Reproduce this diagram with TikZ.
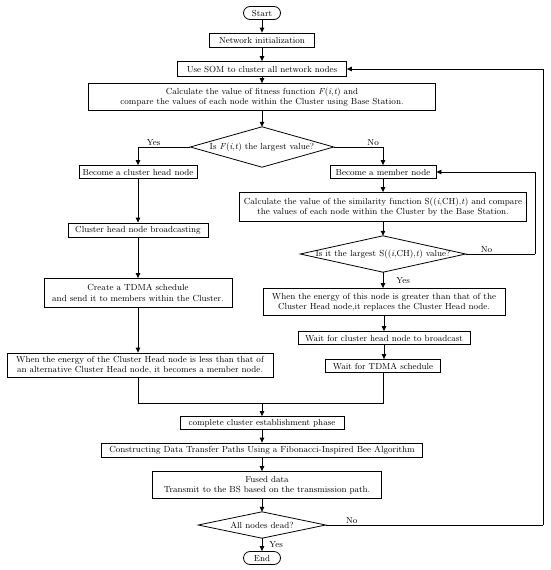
\documentclass[tikz,border=0pt]{standalone}
\usetikzlibrary{arrows.meta}
\begin{document}
\begin{tikzpicture}[x=1pt,y=-1pt,
  txt/.style={font=\fontsize{8.8}{10.2}\selectfont},
  box/.style={txt,draw,line width=0.8pt,inner sep=1pt,align=center},
  term/.style={box,rounded corners=6.5pt},
  dia/.style={txt,inner sep=0pt,align=center},
  arr/.style={-{Triangle[length=5pt,width=4.5pt]},line width=0.8pt},
  ln/.style={line width=0.8pt},
  lbl/.style={txt,inner sep=1pt}]
\useasboundingbox (0,0) rectangle (550,570);
% main column
\node[term,minimum width=37pt,minimum height=13pt] (start) at (262,13) {Start};
\node[box,minimum width=105pt,minimum height=14pt] (init) at (262,40) {Network initialization};
\node[box,minimum width=169pt,minimum height=15pt] (som) at (262,69) {Use SOM to cluster all network nodes};
\node[box,minimum width=347pt,minimum height=27pt] (calc) at (262,97) {Calculate the value of fitness function \textit{F}(\textit{i},\textit{t}) and\\compare the values of each node within the Cluster using Base Station.};
\node[dia,minimum width=143pt,minimum height=40pt] (d1) at (262,147) {Is \textit{F}(\textit{i},\textit{t}) the largest value?};
% left column
\node[box,minimum width=118pt,minimum height=13pt] (ch) at (138,172) {Become a cluster head node};
\node[box,minimum width=140pt,minimum height=14pt] (bcast) at (138,230) {Cluster head node broadcasting};
\node[box,minimum width=188pt,minimum height=29pt] (tdma) at (138,293) {Create a TDMA schedule\\and send it to members within the Cluster.};
\node[box,minimum width=266pt,minimum height=24pt] (energyL) at (140,365) {When the energy of the Cluster Head node is less than that of\\an alternative Cluster Head node, it becomes a member node.};
% right column
\node[box,minimum width=106pt,minimum height=13pt] (mem) at (383,172) {Become a member node};
\node[box,minimum width=287pt,minimum height=29pt] (sim) at (383,207) {Calculate the value of the similarity function S((\textit{i},CH),\textit{t}) and compare\\the values of each node within the Cluster by the Base Station.};
\node[dia,minimum width=165pt,minimum height=36pt] (d2) at (383,254) {Is it the largest S((\textit{i},CH),\textit{t}) value?};
\node[box,minimum width=242pt,minimum height=27pt] (energyR) at (384,302) {When the energy of this node is greater than that of the\\Cluster Head node,it replaces the Cluster Head node.};
\node[box,minimum width=172pt,minimum height=13pt] (waitB) at (384,338) {Wait for cluster head node to broadcast};
\node[box,minimum width=115pt,minimum height=13pt] (waitT) at (383,366) {Wait for TDMA schedule};
% bottom
\coordinate (j) at (262,403);
\node[box,minimum width=164pt,minimum height=13pt] (complete) at (262,423) {complete cluster establishment phase};
\node[box,minimum width=321pt,minimum height=14pt] (construct) at (262,450) {Constructing Data Transfer Paths Using a Fibonacci-Inspired Bee Algorithm};
\node[box,minimum width=229pt,minimum height=27pt] (fused) at (267,485) {Fused data\\Transmit to the BS based on the transmission path.};
\node[dia,minimum width=127pt,minimum height=26pt] (d3) at (262,525) {All nodes dead?};
\node[term,minimum width=37pt,minimum height=13pt] (end) at (262,558) {End};
% diamonds
\foreach \d in {d1,d2,d3}
  \draw[ln] (\d.north) -- (\d.east) -- (\d.south) -- (\d.west) -- cycle;
% loop coordinates
\coordinate (r1) at (535,254);
\coordinate (r2) at (543,525);
% connectors
\draw[arr] (start) -- (init);
\draw[arr] (init) -- (som);
\draw[arr] (som) -- (calc);
\draw[arr] (calc.south) -- (d1.north);
\draw[arr] (d1.west) -| (ch.north) node[lbl,pos=0.35,above] {Yes};
\draw[arr] (d1.east) -| (mem.north) node[lbl,pos=0.4,above] {No};
\draw[arr] (ch) -- (bcast);
\draw[arr] (bcast) -- (tdma);
\draw[arr] (tdma.south) -- (tdma.south |- energyL.north);
\draw[arr] (mem) -- (sim);
\draw[arr] (sim.south) -- (d2.north);
\draw[arr] (d2.south) -- (energyR.north -| d2.south) node[lbl,midway,right,xshift=12pt] {Yes};
\draw[arr] (energyR.south -| waitB.north) -- (waitB.north);
\draw[arr] (waitB.south) -- (waitB.south |- waitT.north);
\draw[ln] (d2.east) -- (r1) node[lbl,pos=0.3,above] {No};
\draw[arr] (r1) |- (mem.east);
\draw[ln] (energyL.south -| tdma.south) |- (j);
\draw[ln] (waitT.south) |- (j);
\draw[arr] (j) -- (complete.north);
\draw[arr] (complete) -- (construct);
\draw[arr] (construct.south) -- (construct.south |- fused.north);
\draw[arr] (fused.south -| d3.north) -- (d3.north);
\draw[arr] (d3.south) -- (end.north) node[lbl,midway,right,xshift=6pt] {Yes};
\draw[ln] (d3.east) -- (r2) node[lbl,pos=0.12,above] {No};
\draw[arr] (r2) |- (som.east);
\end{tikzpicture}
\end{document}
